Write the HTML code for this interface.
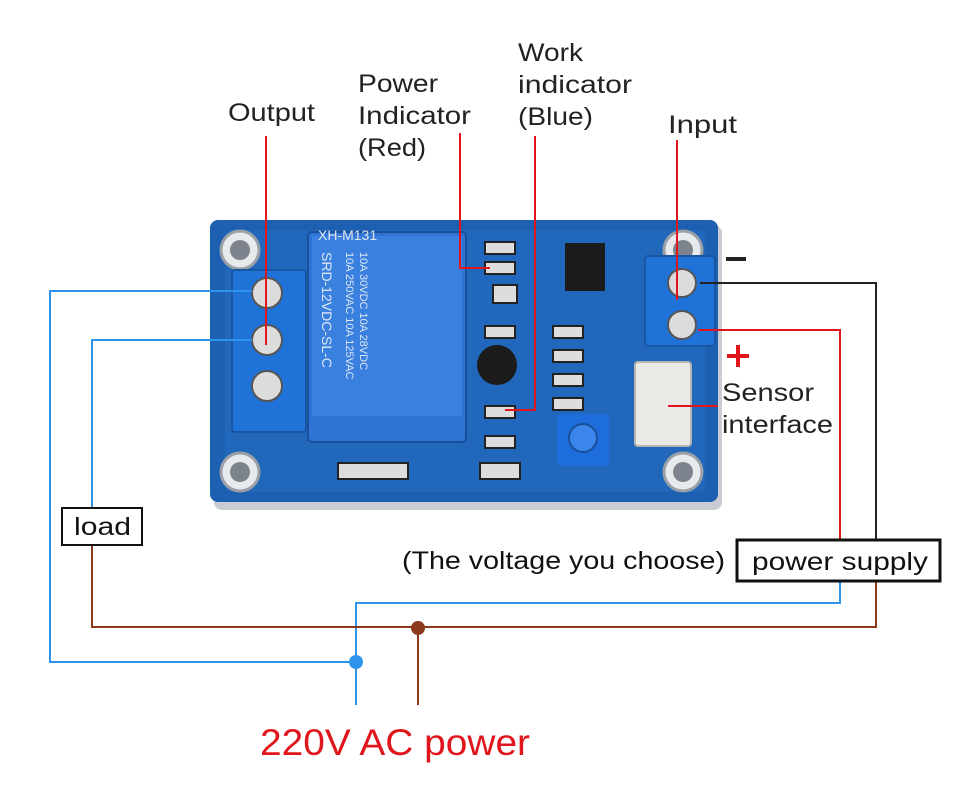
<!DOCTYPE html>
<html><head><meta charset="utf-8"><style>
html,body{margin:0;padding:0;background:#fff;}
svg{display:block;}
text{font-family:"Liberation Sans",sans-serif;}
</style></head><body>
<svg width="954" height="791" viewBox="0 0 954 791" xmlns="http://www.w3.org/2000/svg">
<rect width="954" height="791" fill="#fff"/>
<rect x="214" y="225" width="508" height="285" rx="8" fill="#c9ccd2"/>
<rect x="210" y="220" width="508" height="282" rx="8" fill="#1d5fb0"/>
<rect x="225" y="230" width="480" height="262" rx="6" fill="#2167bb"/>
<g fill="#e8e9ec" stroke="#9aa0a8" stroke-width="3">
<circle cx="240" cy="250" r="19"/><circle cx="683" cy="250" r="19"/>
<circle cx="240" cy="472" r="19"/><circle cx="683" cy="472" r="19"/>
</g>
<g fill="#7d838c"><circle cx="240" cy="250" r="10"/><circle cx="683" cy="250" r="10"/><circle cx="240" cy="472" r="10"/><circle cx="683" cy="472" r="10"/></g>
<rect x="308" y="232" width="158" height="210" rx="4" fill="#2f74d4" stroke="#1a4f9a" stroke-width="2"/>
<rect x="312" y="236" width="150" height="180" fill="#3a80de"/>
<text x="322" y="252" font-size="14" fill="#dde7f7" transform="rotate(90 322 252)">SRD-12VDC-SL-C</text>
<text x="346" y="252" font-size="11" fill="#dde7f7" transform="rotate(90 346 252)">10A 250VAC  10A 125VAC</text>
<text x="360" y="252" font-size="11" fill="#dde7f7" transform="rotate(90 360 252)">10A 30VDC  10A 28VDC</text>
<text x="318" y="240" font-size="14" fill="#dfe6f0">XH-M131</text>
<rect x="232" y="270" width="74" height="162" rx="3" fill="#1f73d8" stroke="#1a55a0" stroke-width="2"/>
<g fill="#dcdcdc" stroke="#555" stroke-width="2">
<circle cx="267" cy="293" r="15"/><circle cx="267" cy="340" r="15"/><circle cx="267" cy="386" r="15"/>
</g>
<rect x="645" y="256" width="70" height="90" rx="3" fill="#1f73d8" stroke="#1a55a0" stroke-width="2"/>
<g fill="#dcdcdc" stroke="#555" stroke-width="2"><circle cx="682" cy="283" r="14"/><circle cx="682" cy="325" r="14"/></g>
<rect x="635" y="362" width="56" height="84" rx="3" fill="#eceae6" stroke="#b8b4ae" stroke-width="2"/>
<rect x="565" y="243" width="40" height="48" fill="#1b1b1b"/>
<g fill="#ddd" stroke="#222" stroke-width="2">
<rect x="485" y="242" width="30" height="12"/><rect x="485" y="262" width="30" height="12"/>
<rect x="493" y="285" width="24" height="18"/><rect x="485" y="326" width="30" height="12"/>
<rect x="553" y="326" width="30" height="12"/><rect x="553" y="350" width="30" height="12"/>
<rect x="553" y="374" width="30" height="12"/><rect x="553" y="398" width="30" height="12"/>
<rect x="485" y="406" width="30" height="12"/><rect x="485" y="436" width="30" height="12"/>
<rect x="338" y="463" width="70" height="16"/><rect x="480" y="463" width="40" height="16"/>
</g>
<circle cx="497" cy="365" r="20" fill="#1b1b1b"/>
<rect x="557" y="414" width="52" height="52" rx="4" fill="#1e6ddc"/>
<circle cx="583" cy="438" r="14" fill="#3a86ea" stroke="#1a4f9a" stroke-width="2"/>
<g stroke="#e0161c" stroke-width="2" fill="none">
<polyline points="266,136 266,345"/>
<polyline points="460,133 460,268 490,268"/>
<polyline points="535,136 535,410 505,410"/>
<polyline points="677,140 677,300"/>
<polyline points="668,406 718,406"/>
<polyline points="698,330 840,330 840,541"/>
</g>
<polyline points="700,283 876,283 876,541" stroke="#222" stroke-width="2" fill="none"/>
<g stroke="#2e93ea" stroke-width="2" fill="none">
<polyline points="252,291 50,291 50,662 356,662"/>
<polyline points="252,340 92,340 92,508"/>
<polyline points="840,580 840,603 356,603 356,705"/>
</g>
<circle cx="356" cy="662" r="7" fill="#2e93ea"/>
<g stroke="#8b3a1c" stroke-width="2" fill="none">
<polyline points="92,545 92,627 876,627 876,580"/>
<polyline points="418,627 418,705"/>
</g>
<circle cx="418" cy="628" r="7" fill="#8b3a1c"/>
<rect x="62" y="508" width="80" height="37" fill="#fff" stroke="#111" stroke-width="2"/>
<text x="74" y="535" font-size="25" fill="#111" textLength="57" lengthAdjust="spacingAndGlyphs">load</text>
<rect x="737" y="540" width="203" height="41" fill="#fff" stroke="#111" stroke-width="3"/>
<text x="752" y="570" font-size="25" fill="#111" textLength="176" lengthAdjust="spacingAndGlyphs">power supply</text>
<text x="402" y="569" font-size="25" fill="#111" textLength="323" lengthAdjust="spacingAndGlyphs">(The voltage you choose)</text>
<g font-size="25" fill="#222">
<text x="228" y="121" textLength="87" lengthAdjust="spacingAndGlyphs">Output</text>
<text x="358" y="92" textLength="80" lengthAdjust="spacingAndGlyphs">Power</text>
<text x="358" y="124" textLength="113" lengthAdjust="spacingAndGlyphs">Indicator</text>
<text x="358" y="156" textLength="68" lengthAdjust="spacingAndGlyphs">(Red)</text>
<text x="518" y="61" textLength="65" lengthAdjust="spacingAndGlyphs">Work</text>
<text x="518" y="93" textLength="114" lengthAdjust="spacingAndGlyphs">indicator</text>
<text x="518" y="125" textLength="75" lengthAdjust="spacingAndGlyphs">(Blue)</text>
<text x="668" y="133" textLength="69" lengthAdjust="spacingAndGlyphs">Input</text>
<text x="722" y="401" textLength="92" lengthAdjust="spacingAndGlyphs">Sensor</text>
<text x="722" y="433" textLength="111" lengthAdjust="spacingAndGlyphs">interface</text>
</g>
<rect x="726" y="257" width="20" height="4" fill="#222"/>
<rect x="727" y="354" width="22" height="4" fill="#e0161c"/><rect x="736" y="345" width="4" height="22" fill="#e0161c"/>
<text x="260" y="755" font-size="37" fill="#e0161c" textLength="270" lengthAdjust="spacingAndGlyphs">220V AC power</text>
</svg>
</body></html>
